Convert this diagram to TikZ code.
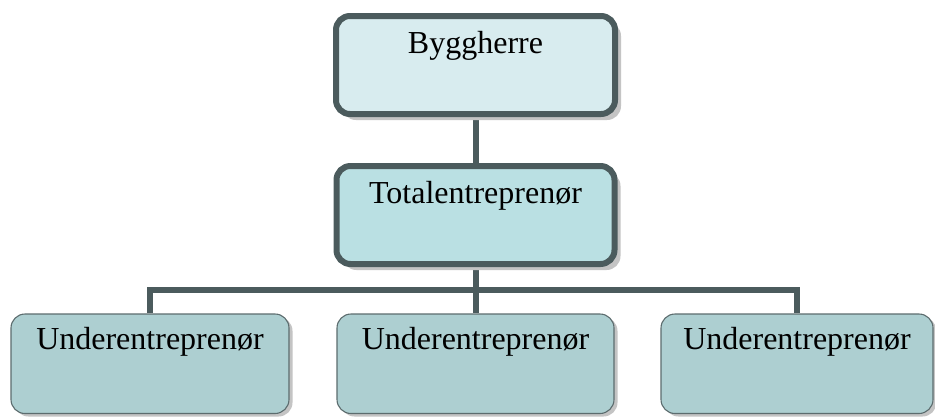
\documentclass[tikz,border=0pt]{standalone}
\usepackage{fontspec}
\setmainfont{Liberation Serif}
\usetikzlibrary{shadows}
\pgfdeclarelayer{background}
\pgfsetlayers{background,main}
\definecolor{edgeslate}{HTML}{4B5B5D}
\definecolor{thinedge}{HTML}{5C6C6E}
\definecolor{fillowner}{HTML}{D8ECEF}
\definecolor{fillmain}{HTML}{BAE0E3}
\definecolor{fillsub}{HTML}{ADCFD1}
\definecolor{shadowgrey}{HTML}{C4C4C4}
\begin{document}
\begin{tikzpicture}[x=1pt,y=-1pt,
  orgbox/.style={rectangle, rounded corners=14pt, inner sep=0pt, anchor=base,
    font=\fontsize{32}{36}\selectfont},
  heavybox/.style={orgbox, draw=edgeslate, line width=6pt,
    text height=37pt, text depth=61pt,
    drop shadow={shadow xshift=6pt, shadow yshift=-6pt, fill=shadowgrey, opacity=1}},
  subbox/.style={orgbox, draw=thinedge, line width=1.1pt, fill=fillsub,
    text height=35pt, text depth=64.5pt,
    drop shadow={shadow xshift=3.5pt, shadow yshift=-3pt, fill=shadowgrey, opacity=1}},
  link/.style={draw=edgeslate, line width=6pt}]
\begin{pgfonlayer}{background}
\fill[white] (0,0) rectangle (935,416);
\end{pgfonlayer}
\useasboundingbox (0,0) rectangle (935,416);

\coordinate (bar) at (475.5,290);
\node[heavybox, fill=fillowner, minimum width=279pt] (owner) at (475.5,53) {Byggherre};
\node[heavybox, fill=fillmain, minimum width=278pt] (main) at (475.5,203) {Totalentreprenør};
\node[subbox, minimum width=278pt] (subA) at (150,349) {Underentreprenør};
\node[subbox, minimum width=277pt] (subB) at (475.5,349) {Underentreprenør};
\node[subbox, minimum width=272pt] (subC) at (797,349) {Underentreprenør};

% connectors sit behind the boxes
\begin{pgfonlayer}{background}
\draw[link] (owner.south) -- (main.north);
\draw[link] (main.south) -- (subB.north);
\draw[link] (subA.north) |- (bar) -| (subC.north);
\end{pgfonlayer}
\end{tikzpicture}
\end{document}
